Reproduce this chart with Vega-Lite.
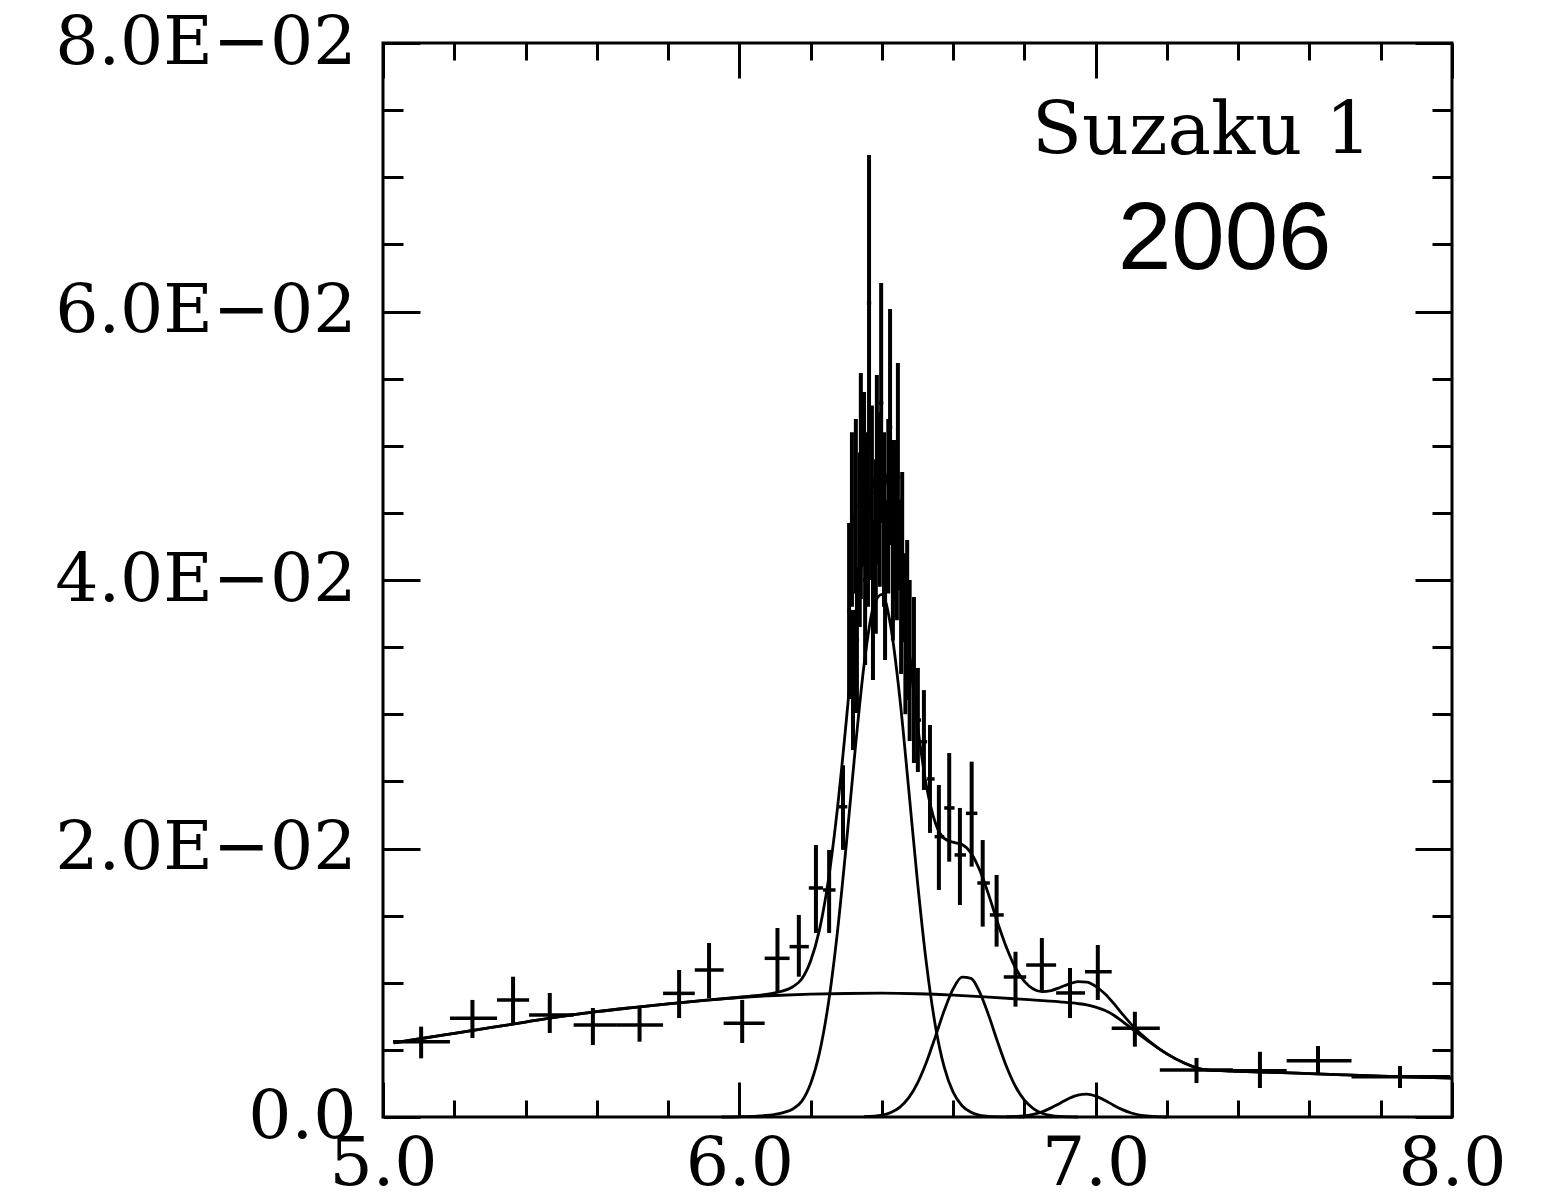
{
  "$schema": "https://vega.github.io/schema/vega-lite/v6.json",
  "width": 1069,
  "height": 1074,
  "autosize": {"type": "none"},
  "padding": {"left": 383, "top": 43, "right": 111, "bottom": 86},
  "background": "white",
  "config": {
    "view": {"stroke": "black", "strokeWidth": 3},
    "axis": {
      "domain": false,
      "grid": false,
      "tickColor": "black",
      "tickWidth": 3,
      "labelColor": "black",
      "labelFont": "DejaVu Serif",
      "labelFontSize": 68,
      "labelLimit": 0,
      "title": null
    }
  },
  "datasets": {
    "spectrum": [
      {"E": 5.107, "Elo": 5.028, "Ehi": 5.188, "rate": 0.00561, "lo": 0.00437, "hi": 0.00673},
      {"E": 5.251, "Elo": 5.188, "Ehi": 5.320, "rate": 0.00735, "lo": 0.00588, "hi": 0.00872},
      {"E": 5.365, "Elo": 5.320, "Ehi": 5.410, "rate": 0.00872, "lo": 0.00698, "hi": 0.01045},
      {"E": 5.468, "Elo": 5.410, "Ehi": 5.535, "rate": 0.00760, "lo": 0.00626, "hi": 0.00924},
      {"E": 5.589, "Elo": 5.535, "Ehi": 5.654, "rate": 0.00685, "lo": 0.00536, "hi": 0.00812},
      {"E": 5.720, "Elo": 5.654, "Ehi": 5.786, "rate": 0.00685, "lo": 0.00561, "hi": 0.00812},
      {"E": 5.831, "Elo": 5.786, "Ehi": 5.875, "rate": 0.00921, "lo": 0.00737, "hi": 0.01095},
      {"E": 5.915, "Elo": 5.875, "Ehi": 5.956, "rate": 0.01095, "lo": 0.00886, "hi": 0.01296},
      {"E": 6.008, "Elo": 5.956, "Ehi": 6.071, "rate": 0.00698, "lo": 0.00551, "hi": 0.00872},
      {"E": 6.107, "Elo": 6.071, "Ehi": 6.141, "rate": 0.01182, "lo": 0.00931, "hi": 0.01408},
      {"E": 6.167, "Elo": 6.141, "Ehi": 6.195, "rate": 0.01269, "lo": 0.01045, "hi": 0.01505},
      {"E": 6.215, "Elo": 6.195, "Ehi": 6.235, "rate": 0.01706, "lo": 0.01371, "hi": 0.02026},
      {"E": 6.252, "Elo": 6.235, "Ehi": 6.270, "rate": 0.01691, "lo": 0.01371, "hi": 0.01989},
      {"E": 6.291, "Elo": 6.278, "Ehi": 6.303, "rate": 0.02311, "lo": 0.01990, "hi": 0.02620},
      {"E": 6.308, "Elo": 6.303, "Ehi": 6.313, "rate": 0.03769, "lo": 0.03114, "hi": 0.04425},
      {"E": 6.316, "Elo": 6.311, "Ehi": 6.321, "rate": 0.04450, "lo": 0.03800, "hi": 0.05100},
      {"E": 6.319, "Elo": 6.313, "Ehi": 6.325, "rate": 0.03255, "lo": 0.02734, "hi": 0.03777},
      {"E": 6.327, "Elo": 6.322, "Ehi": 6.332, "rate": 0.04550, "lo": 0.03900, "hi": 0.05200},
      {"E": 6.330, "Elo": 6.325, "Ehi": 6.336, "rate": 0.03553, "lo": 0.03009, "hi": 0.04097},
      {"E": 6.338, "Elo": 6.333, "Ehi": 6.343, "rate": 0.04300, "lo": 0.03650, "hi": 0.04950},
      {"E": 6.341, "Elo": 6.336, "Ehi": 6.347, "rate": 0.04700, "lo": 0.03859, "hi": 0.05542},
      {"E": 6.350, "Elo": 6.345, "Ehi": 6.355, "rate": 0.04750, "lo": 0.04100, "hi": 0.05400},
      {"E": 6.353, "Elo": 6.347, "Ehi": 6.358, "rate": 0.04000, "lo": 0.03367, "hi": 0.04633},
      {"E": 6.361, "Elo": 6.356, "Ehi": 6.366, "rate": 0.04450, "lo": 0.03800, "hi": 0.05100},
      {"E": 6.364, "Elo": 6.358, "Ehi": 6.370, "rate": 0.06063, "lo": 0.04961, "hi": 0.07166},
      {"E": 6.372, "Elo": 6.367, "Ehi": 6.377, "rate": 0.04650, "lo": 0.04000, "hi": 0.05300},
      {"E": 6.375, "Elo": 6.370, "Ehi": 6.381, "rate": 0.03851, "lo": 0.03255, "hi": 0.04447},
      {"E": 6.383, "Elo": 6.378, "Ehi": 6.388, "rate": 0.04250, "lo": 0.03600, "hi": 0.04900},
      {"E": 6.386, "Elo": 6.381, "Ehi": 6.392, "rate": 0.04819, "lo": 0.04112, "hi": 0.05527},
      {"E": 6.394, "Elo": 6.389, "Ehi": 6.399, "rate": 0.04600, "lo": 0.03950, "hi": 0.05250},
      {"E": 6.398, "Elo": 6.392, "Ehi": 6.404, "rate": 0.05318, "lo": 0.04425, "hi": 0.06212},
      {"E": 6.406, "Elo": 6.401, "Ehi": 6.411, "rate": 0.04450, "lo": 0.03800, "hi": 0.05100},
      {"E": 6.409, "Elo": 6.404, "Ehi": 6.416, "rate": 0.04000, "lo": 0.03404, "hi": 0.04596},
      {"E": 6.418, "Elo": 6.413, "Ehi": 6.423, "rate": 0.04550, "lo": 0.03900, "hi": 0.05200},
      {"E": 6.423, "Elo": 6.416, "Ehi": 6.429, "rate": 0.05140, "lo": 0.04261, "hi": 0.06019},
      {"E": 6.431, "Elo": 6.426, "Ehi": 6.436, "rate": 0.04200, "lo": 0.03550, "hi": 0.04850},
      {"E": 6.434, "Elo": 6.429, "Ehi": 6.440, "rate": 0.04447, "lo": 0.03851, "hi": 0.05043},
      {"E": 6.442, "Elo": 6.437, "Ehi": 6.447, "rate": 0.04350, "lo": 0.03700, "hi": 0.05000},
      {"E": 6.445, "Elo": 6.440, "Ehi": 6.451, "rate": 0.04767, "lo": 0.03926, "hi": 0.05616},
      {"E": 6.454, "Elo": 6.449, "Ehi": 6.459, "rate": 0.03950, "lo": 0.03300, "hi": 0.04600},
      {"E": 6.457, "Elo": 6.451, "Ehi": 6.464, "rate": 0.04171, "lo": 0.03538, "hi": 0.04804},
      {"E": 6.466, "Elo": 6.461, "Ehi": 6.471, "rate": 0.03600, "lo": 0.03000, "hi": 0.04200},
      {"E": 6.471, "Elo": 6.464, "Ehi": 6.480, "rate": 0.03702, "lo": 0.03106, "hi": 0.04298},
      {"E": 6.478, "Elo": 6.473, "Ehi": 6.483, "rate": 0.03400, "lo": 0.02800, "hi": 0.04000},
      {"E": 6.490, "Elo": 6.480, "Ehi": 6.496, "rate": 0.03255, "lo": 0.02637, "hi": 0.03873},
      {"E": 6.501, "Elo": 6.496, "Ehi": 6.510, "rate": 0.02957, "lo": 0.02570, "hi": 0.03345},
      {"E": 6.518, "Elo": 6.510, "Ehi": 6.527, "rate": 0.02796, "lo": 0.02436, "hi": 0.03180},
      {"E": 6.535, "Elo": 6.527, "Ehi": 6.548, "rate": 0.02518, "lo": 0.02116, "hi": 0.02920},
      {"E": 6.560, "Elo": 6.548, "Ehi": 6.575, "rate": 0.02088, "lo": 0.01691, "hi": 0.02473},
      {"E": 6.589, "Elo": 6.575, "Ehi": 6.604, "rate": 0.02302, "lo": 0.01902, "hi": 0.02711},
      {"E": 6.619, "Elo": 6.604, "Ehi": 6.636, "rate": 0.01952, "lo": 0.01579, "hi": 0.02302},
      {"E": 6.652, "Elo": 6.636, "Ehi": 6.668, "rate": 0.02262, "lo": 0.01865, "hi": 0.02647},
      {"E": 6.683, "Elo": 6.668, "Ehi": 6.703, "rate": 0.01743, "lo": 0.01418, "hi": 0.02063},
      {"E": 6.722, "Elo": 6.703, "Ehi": 6.742, "rate": 0.01505, "lo": 0.01269, "hi": 0.01803},
      {"E": 6.775, "Elo": 6.742, "Ehi": 6.805, "rate": 0.01043, "lo": 0.00822, "hi": 0.01231},
      {"E": 6.849, "Elo": 6.805, "Ehi": 6.889, "rate": 0.01132, "lo": 0.00939, "hi": 0.01333},
      {"E": 6.928, "Elo": 6.889, "Ehi": 6.970, "rate": 0.00924, "lo": 0.00737, "hi": 0.01110},
      {"E": 7.006, "Elo": 6.970, "Ehi": 7.045, "rate": 0.01082, "lo": 0.00872, "hi": 0.01281},
      {"E": 7.110, "Elo": 7.045, "Ehi": 7.180, "rate": 0.00661, "lo": 0.00524, "hi": 0.00784},
      {"E": 7.283, "Elo": 7.180, "Ehi": 7.385, "rate": 0.00350, "lo": 0.00253, "hi": 0.00440},
      {"E": 7.461, "Elo": 7.385, "Ehi": 7.536, "rate": 0.00345, "lo": 0.00216, "hi": 0.00486},
      {"E": 7.624, "Elo": 7.536, "Ehi": 7.718, "rate": 0.00419, "lo": 0.00313, "hi": 0.00529},
      {"E": 7.854, "Elo": 7.718, "Ehi": 7.995, "rate": 0.00300, "lo": 0.00216, "hi": 0.00380}
    ],
    "model": [
      {"comp": "total", "E": 5.03, "v": 0.00552},
      {"comp": "total", "E": 5.1, "v": 0.00581},
      {"comp": "total", "E": 5.2, "v": 0.00623},
      {"comp": "total", "E": 5.3, "v": 0.00665},
      {"comp": "total", "E": 5.4, "v": 0.00707},
      {"comp": "total", "E": 5.5, "v": 0.00749},
      {"comp": "total", "E": 5.6, "v": 0.00785},
      {"comp": "total", "E": 5.7, "v": 0.00815},
      {"comp": "total", "E": 5.8, "v": 0.00843},
      {"comp": "total", "E": 5.9, "v": 0.00868},
      {"comp": "total", "E": 6.0, "v": 0.00892},
      {"comp": "total", "E": 6.05, "v": 0.00905},
      {"comp": "total", "E": 6.1, "v": 0.00925},
      {"comp": "total", "E": 6.15, "v": 0.0097},
      {"comp": "total", "E": 6.175, "v": 0.01028},
      {"comp": "total", "E": 6.2, "v": 0.01162},
      {"comp": "total", "E": 6.225, "v": 0.01396},
      {"comp": "total", "E": 6.25, "v": 0.01766},
      {"comp": "total", "E": 6.275, "v": 0.02291},
      {"comp": "total", "E": 6.3, "v": 0.02946},
      {"comp": "total", "E": 6.325, "v": 0.03654},
      {"comp": "total", "E": 6.35, "v": 0.0429},
      {"comp": "total", "E": 6.375, "v": 0.04716},
      {"comp": "total", "E": 6.4, "v": 0.04829},
      {"comp": "total", "E": 6.425, "v": 0.04608},
      {"comp": "total", "E": 6.45, "v": 0.04123},
      {"comp": "total", "E": 6.475, "v": 0.03512},
      {"comp": "total", "E": 6.5, "v": 0.02923},
      {"comp": "total", "E": 6.525, "v": 0.02468},
      {"comp": "total", "E": 6.55, "v": 0.02192},
      {"comp": "total", "E": 6.575, "v": 0.02075},
      {"comp": "total", "E": 6.6, "v": 0.02047},
      {"comp": "total", "E": 6.625, "v": 0.0203},
      {"comp": "total", "E": 6.65, "v": 0.01967},
      {"comp": "total", "E": 6.675, "v": 0.01837},
      {"comp": "total", "E": 6.7, "v": 0.01653},
      {"comp": "total", "E": 6.725, "v": 0.01447},
      {"comp": "total", "E": 6.75, "v": 0.0126},
      {"comp": "total", "E": 6.775, "v": 0.0111},
      {"comp": "total", "E": 6.8, "v": 0.0101},
      {"comp": "total", "E": 6.825, "v": 0.00954},
      {"comp": "total", "E": 6.85, "v": 0.00934},
      {"comp": "total", "E": 6.875, "v": 0.00942},
      {"comp": "total", "E": 6.9, "v": 0.00965},
      {"comp": "total", "E": 6.925, "v": 0.0099},
      {"comp": "total", "E": 6.95, "v": 0.01008},
      {"comp": "total", "E": 6.975, "v": 0.01005},
      {"comp": "total", "E": 7.0, "v": 0.00973},
      {"comp": "total", "E": 7.025, "v": 0.0092},
      {"comp": "total", "E": 7.05, "v": 0.00848},
      {"comp": "total", "E": 7.075, "v": 0.00767},
      {"comp": "total", "E": 7.1, "v": 0.0069},
      {"comp": "total", "E": 7.15, "v": 0.00566},
      {"comp": "total", "E": 7.2, "v": 0.0047},
      {"comp": "total", "E": 7.25, "v": 0.004},
      {"comp": "total", "E": 7.3, "v": 0.00355},
      {"comp": "total", "E": 7.35, "v": 0.00345},
      {"comp": "total", "E": 7.4, "v": 0.0034},
      {"comp": "total", "E": 7.5, "v": 0.00332},
      {"comp": "total", "E": 7.6, "v": 0.00323},
      {"comp": "total", "E": 7.7, "v": 0.00314},
      {"comp": "total", "E": 7.8, "v": 0.00305},
      {"comp": "total", "E": 7.9, "v": 0.00297},
      {"comp": "total", "E": 8.0, "v": 0.0029},
      {"comp": "continuum", "E": 5.03, "v": 0.00552},
      {"comp": "continuum", "E": 5.1, "v": 0.00581},
      {"comp": "continuum", "E": 5.2, "v": 0.00623},
      {"comp": "continuum", "E": 5.3, "v": 0.00665},
      {"comp": "continuum", "E": 5.4, "v": 0.00707},
      {"comp": "continuum", "E": 5.5, "v": 0.00749},
      {"comp": "continuum", "E": 5.6, "v": 0.00785},
      {"comp": "continuum", "E": 5.7, "v": 0.00815},
      {"comp": "continuum", "E": 5.8, "v": 0.00843},
      {"comp": "continuum", "E": 5.9, "v": 0.00868},
      {"comp": "continuum", "E": 6.0, "v": 0.0089},
      {"comp": "continuum", "E": 6.1, "v": 0.00905},
      {"comp": "continuum", "E": 6.2, "v": 0.00915},
      {"comp": "continuum", "E": 6.3, "v": 0.0092},
      {"comp": "continuum", "E": 6.4, "v": 0.00922},
      {"comp": "continuum", "E": 6.5, "v": 0.00918},
      {"comp": "continuum", "E": 6.6, "v": 0.00908},
      {"comp": "continuum", "E": 6.7, "v": 0.00893},
      {"comp": "continuum", "E": 6.8, "v": 0.00876},
      {"comp": "continuum", "E": 6.9, "v": 0.00858},
      {"comp": "continuum", "E": 6.95, "v": 0.00845},
      {"comp": "continuum", "E": 6.975, "v": 0.00835},
      {"comp": "continuum", "E": 7.0, "v": 0.00818},
      {"comp": "continuum", "E": 7.025, "v": 0.00795},
      {"comp": "continuum", "E": 7.05, "v": 0.0076},
      {"comp": "continuum", "E": 7.075, "v": 0.00712},
      {"comp": "continuum", "E": 7.1, "v": 0.0066},
      {"comp": "continuum", "E": 7.15, "v": 0.0056},
      {"comp": "continuum", "E": 7.2, "v": 0.0047},
      {"comp": "continuum", "E": 7.25, "v": 0.004},
      {"comp": "continuum", "E": 7.3, "v": 0.00355},
      {"comp": "continuum", "E": 7.35, "v": 0.00345},
      {"comp": "continuum", "E": 7.4, "v": 0.0034},
      {"comp": "continuum", "E": 7.5, "v": 0.00332},
      {"comp": "continuum", "E": 7.6, "v": 0.00323},
      {"comp": "continuum", "E": 7.7, "v": 0.00314},
      {"comp": "continuum", "E": 7.8, "v": 0.00305},
      {"comp": "continuum", "E": 7.9, "v": 0.00297},
      {"comp": "continuum", "E": 8.0, "v": 0.0029},
      {"comp": "FeKa", "E": 5.95, "v": 0.0},
      {"comp": "FeKa", "E": 6.0, "v": 0.00002},
      {"comp": "FeKa", "E": 6.05, "v": 0.00007},
      {"comp": "FeKa", "E": 6.1, "v": 0.0002},
      {"comp": "FeKa", "E": 6.15, "v": 0.0006},
      {"comp": "FeKa", "E": 6.175, "v": 0.00116},
      {"comp": "FeKa", "E": 6.2, "v": 0.00247},
      {"comp": "FeKa", "E": 6.225, "v": 0.00479},
      {"comp": "FeKa", "E": 6.25, "v": 0.00848},
      {"comp": "FeKa", "E": 6.275, "v": 0.01372},
      {"comp": "FeKa", "E": 6.3, "v": 0.02026},
      {"comp": "FeKa", "E": 6.325, "v": 0.02733},
      {"comp": "FeKa", "E": 6.35, "v": 0.03367},
      {"comp": "FeKa", "E": 6.375, "v": 0.03788},
      {"comp": "FeKa", "E": 6.4, "v": 0.03893},
      {"comp": "FeKa", "E": 6.425, "v": 0.03653},
      {"comp": "FeKa", "E": 6.45, "v": 0.03131},
      {"comp": "FeKa", "E": 6.475, "v": 0.02451},
      {"comp": "FeKa", "E": 6.5, "v": 0.01752},
      {"comp": "FeKa", "E": 6.525, "v": 0.01144},
      {"comp": "FeKa", "E": 6.55, "v": 0.00682},
      {"comp": "FeKa", "E": 6.575, "v": 0.00371},
      {"comp": "FeKa", "E": 6.6, "v": 0.00185},
      {"comp": "FeKa", "E": 6.625, "v": 0.00084},
      {"comp": "FeKa", "E": 6.65, "v": 0.00035},
      {"comp": "FeKa", "E": 6.675, "v": 0.00013},
      {"comp": "FeKa", "E": 6.7, "v": 0.00005},
      {"comp": "FeKa", "E": 6.75, "v": 0.00001},
      {"comp": "FeKa", "E": 6.8, "v": 0.0},
      {"comp": "FeXXV", "E": 6.35, "v": 0.00002},
      {"comp": "FeXXV", "E": 6.4, "v": 0.00014},
      {"comp": "FeXXV", "E": 6.425, "v": 0.00034},
      {"comp": "FeXXV", "E": 6.45, "v": 0.00072},
      {"comp": "FeXXV", "E": 6.475, "v": 0.00142},
      {"comp": "FeXXV", "E": 6.5, "v": 0.00253},
      {"comp": "FeXXV", "E": 6.525, "v": 0.00408},
      {"comp": "FeXXV", "E": 6.55, "v": 0.00597},
      {"comp": "FeXXV", "E": 6.575, "v": 0.00793},
      {"comp": "FeXXV", "E": 6.6, "v": 0.00954},
      {"comp": "FeXXV", "E": 6.625, "v": 0.01042},
      {"comp": "FeXXV", "E": 6.65, "v": 0.01032},
      {"comp": "FeXXV", "E": 6.675, "v": 0.00927},
      {"comp": "FeXXV", "E": 6.7, "v": 0.00755},
      {"comp": "FeXXV", "E": 6.725, "v": 0.00558},
      {"comp": "FeXXV", "E": 6.75, "v": 0.00374},
      {"comp": "FeXXV", "E": 6.775, "v": 0.00227},
      {"comp": "FeXXV", "E": 6.8, "v": 0.00125},
      {"comp": "FeXXV", "E": 6.825, "v": 0.00063},
      {"comp": "FeXXV", "E": 6.85, "v": 0.00028},
      {"comp": "FeXXV", "E": 6.9, "v": 0.00004},
      {"comp": "FeXXV", "E": 6.95, "v": 0.0},
      {"comp": "FeXXVI", "E": 6.75, "v": 0.00001},
      {"comp": "FeXXVI", "E": 6.8, "v": 0.00009},
      {"comp": "FeXXVI", "E": 6.825, "v": 0.0002},
      {"comp": "FeXXVI", "E": 6.85, "v": 0.00039},
      {"comp": "FeXXVI", "E": 6.875, "v": 0.00068},
      {"comp": "FeXXVI", "E": 6.9, "v": 0.00103},
      {"comp": "FeXXVI", "E": 6.925, "v": 0.00138},
      {"comp": "FeXXVI", "E": 6.95, "v": 0.00163},
      {"comp": "FeXXVI", "E": 6.975, "v": 0.0017},
      {"comp": "FeXXVI", "E": 7.0, "v": 0.00155},
      {"comp": "FeXXVI", "E": 7.025, "v": 0.00125},
      {"comp": "FeXXVI", "E": 7.05, "v": 0.00088},
      {"comp": "FeXXVI", "E": 7.075, "v": 0.00055},
      {"comp": "FeXXVI", "E": 7.1, "v": 0.0003},
      {"comp": "FeXXVI", "E": 7.15, "v": 0.00006},
      {"comp": "FeXXVI", "E": 7.2, "v": 0.0}
    ]
  },
  "resolve": {"axis": {"x": "independent", "y": "independent"}},
  "layer": [
    {
      "data": {"name": "spectrum"},
      "mark": {"type": "rule", "color": "black", "strokeWidth": 4},
      "encoding": {
        "x": {
          "field": "E", "type": "quantitative",
          "scale": {"domain": [5, 8], "nice": false, "zero": false},
          "axis": {"orient": "bottom", "values": [5, 6, 7, 8], "tickSize": -35, "format": ".1f", "labelPadding": 48, "labelFlush": false, "labelOverlap": false, "title": null}
        },
        "y": {
          "field": "lo", "type": "quantitative",
          "scale": {"domain": [0, 0.08], "nice": false, "zero": false},
          "axis": {"orient": "left", "values": [0, 0.02, 0.04, 0.06, 0.08], "tickSize": -37, "labelPadding": 64, "labelFlush": false, "labelOverlap": false,
                   "labelExpr": "datum.value === 0 ? '0.0' : format(datum.value * 100, '.1f') + 'E\u221202'", "title": null}
        },
        "y2": {"field": "hi"}
      }
    },
    {
      "data": {"name": "spectrum"},
      "mark": {"type": "rule", "color": "black", "strokeWidth": 3.5},
      "encoding": {
        "x": {
          "field": "Elo", "type": "quantitative",
          "scale": {"domain": [5, 8], "nice": false, "zero": false},
          "axis": {"orient": "bottom", "values": [5.2, 5.4, 5.6, 5.8, 6.2, 6.4, 6.6, 6.8, 7.2, 7.4, 7.6, 7.8], "tickSize": -17, "labels": false, "title": null}
        },
        "x2": {"field": "Ehi"},
        "y": {
          "field": "rate", "type": "quantitative",
          "scale": {"domain": [0, 0.08], "nice": false, "zero": false},
          "axis": {"orient": "left", "values": [0.005, 0.01, 0.015, 0.025, 0.03, 0.035, 0.045, 0.05, 0.055, 0.065, 0.07, 0.075], "tickSize": -20, "labels": false, "title": null}
        }
      }
    },
    {
      "data": {"name": "model"},
      "mark": {"type": "line", "color": "black", "strokeWidth": 2.8, "interpolate": "monotone"},
      "encoding": {
        "x": {
          "field": "E", "type": "quantitative",
          "scale": {"domain": [5, 8], "nice": false, "zero": false},
          "axis": {"orient": "top", "values": [5, 6, 7, 8], "tickSize": -35, "labels": false, "title": null}
        },
        "y": {
          "field": "v", "type": "quantitative",
          "scale": {"domain": [0, 0.08], "nice": false, "zero": false},
          "axis": {"orient": "right", "values": [0, 0.02, 0.04, 0.06, 0.08], "tickSize": -37, "labels": false, "title": null}
        },
        "detail": {"field": "comp", "type": "nominal"}
      }
    },
    {
      "data": {"values": [{"E": 7.298, "v": 0.0717, "label": "Suzaku 1"}]},
      "mark": {"type": "text", "font": "DejaVu Serif", "fontSize": 73, "color": "black", "align": "center", "baseline": "alphabetic"},
      "encoding": {
        "x": {
          "field": "E", "type": "quantitative",
          "scale": {"domain": [5, 8], "nice": false, "zero": false},
          "axis": {"orient": "top", "values": [5.2, 5.4, 5.6, 5.8, 6.2, 6.4, 6.6, 6.8, 7.2, 7.4, 7.6, 7.8], "tickSize": -17, "labels": false, "title": null}
        },
        "y": {
          "field": "v", "type": "quantitative",
          "scale": {"domain": [0, 0.08], "nice": false, "zero": false},
          "axis": {"orient": "right", "values": [0.005, 0.01, 0.015, 0.025, 0.03, 0.035, 0.045, 0.05, 0.055, 0.065, 0.07, 0.075], "tickSize": -20, "labels": false, "title": null}
        },
        "text": {"field": "label"}
      }
    },
    {
      "data": {"values": [{"E": 7.362, "v": 0.0632, "label": "2006"}]},
      "mark": {"type": "text", "font": "Liberation Sans", "fontSize": 96, "color": "black", "align": "center", "baseline": "alphabetic"},
      "encoding": {
        "x": {"field": "E", "type": "quantitative", "scale": {"domain": [5, 8], "nice": false, "zero": false}, "axis": null},
        "y": {"field": "v", "type": "quantitative", "scale": {"domain": [0, 0.08], "nice": false, "zero": false}, "axis": null},
        "text": {"field": "label"}
      }
    }
  ]
}
